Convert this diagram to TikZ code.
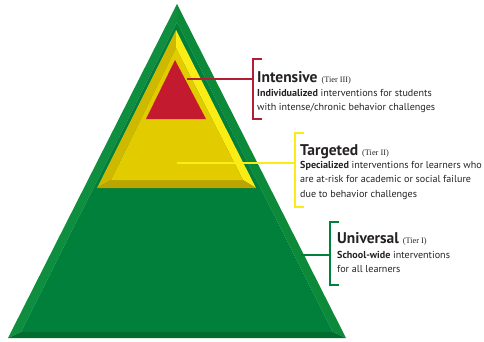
\documentclass[tikz,border=0pt]{standalone}
\usepackage{fontspec}
\setmainfont{PT Sans}
\newfontfamily\tierfont{Liberation Serif}
\definecolor{greenface}{RGB}{0,128,58}
\definecolor{greenleft}{RGB}{14,142,62}
\definecolor{greenright}{RGB}{12,138,58}
\definecolor{greenbase}{RGB}{0,108,46}
\definecolor{yellowface}{RGB}{226,204,0}
\definecolor{yellowleft}{RGB}{206,184,0}
\definecolor{yellowright}{RGB}{250,236,20}
\definecolor{yellowbase}{RGB}{188,165,0}
\definecolor{redface}{RGB}{196,26,48}
\definecolor{redline}{RGB}{178,30,52}
\definecolor{textgray}{RGB}{38,34,35}
\tikzset{
  heading/.style={anchor=base west, inner sep=0pt, text=textgray, font=\fontsize{15.5}{17}\selectfont\bfseries},
  desc/.style={anchor=north west, inner sep=0pt, align=left, text=textgray, font=\fontsize{10.1}{14.3}\selectfont},
  tierline/.style={line width=2.5pt},
}
\newcommand{\tiertag}[1]{{\tierfont\mdseries\fontsize{8.3}{9}\selectfont(#1)}}
\begin{document}
\begin{tikzpicture}[x=1pt,y=-1pt]
				\useasboundingbox (0,0) rectangle (484,341);
				% green pyramid (universal)
				\coordinate (GA) at (177,4);
				\coordinate (GL) at (8,338);
				\coordinate (GR) at (346,338);
				\coordinate (ga) at (177,22);
				\coordinate (gl) at (21,332);
				\coordinate (gr) at (333,332);
				\fill[greenleft] (GA) -- (GL) -- (gl) -- (ga) -- cycle;
				\fill[greenright] (GA) -- (GR) -- (gr) -- (ga) -- cycle;
				\fill[greenbase] (GL) -- (GR) -- (gr) -- (gl) -- cycle;
				\fill[greenface] (ga) -- (gl) -- (gr) -- cycle;
				% yellow band (targeted)
				\coordinate (YA) at (176,30);
				\coordinate (YL) at (97,188);
				\coordinate (YR) at (256,188);
				\coordinate (ya) at (176,48);
				\coordinate (yl) at (111,180);
				\coordinate (yr) at (243,180);
				\fill[yellowleft] (YA) -- (YL) -- (yl) -- (ya) -- cycle;
				\fill[yellowright] (YA) -- (YR) -- (yr) -- (ya) -- cycle;
				\fill[yellowbase] (YL) -- (YR) -- (yr) -- (yl) -- cycle;
				\fill[yellowface] (ya) -- (yl) -- (yr) -- cycle;
				% red top (intensive)
				\fill[redface] (175,60) -- (146,119) -- (206,119) -- cycle;
				
				% labels
				\node[heading] (intensive) at (257,82) {Intensive \tiertag{Tier III}};
				\node[desc] (intensivetxt) at (257,89) {\textbf{Individualized} interventions for students\\with intense/chronic behavior challenges};
				\node[heading] (targeted) at (300,155) {Targeted \tiertag{Tier II}};
				\node[desc] (targetedtxt) at (300,161) {\textbf{Specialized} interventions for learners who\\are at-risk for academic or social failure\\due to behavior challenges};
				\node[heading] (universal) at (337,243) {Universal \tiertag{Tier I}};
				\node[desc] (universaltxt) at (337,251) {\textbf{School-wide} interventions\\for all learners};
				
				% brackets and leaders
				\coordinate (redtip) at (187,79);
				\coordinate (redjoin) at (253,79);
				\draw[tierline, redline] (262,59) -- (253,59) -- (253,119) -- (262,119);
				\draw[tierline, redline] (redtip) -- (redjoin);
				\coordinate (yellowtip) at (177,163);
				\coordinate (yellowjoin) at (295,163);
				\draw[tierline, yellowright] (304,133) -- (295,133) -- (295,207) -- (304,207);
				\draw[tierline, yellowright] (yellowtip) -- (yellowjoin);
				\coordinate (greentip) at (301,255);
				\coordinate (greenjoin) at (330,255);
				\draw[tierline, greenface] (339,222) -- (330,222) -- (330,285) -- (339,285);
				\draw[tierline, greenface] (greentip) -- (greenjoin);
			\end{tikzpicture}
\end{document}
